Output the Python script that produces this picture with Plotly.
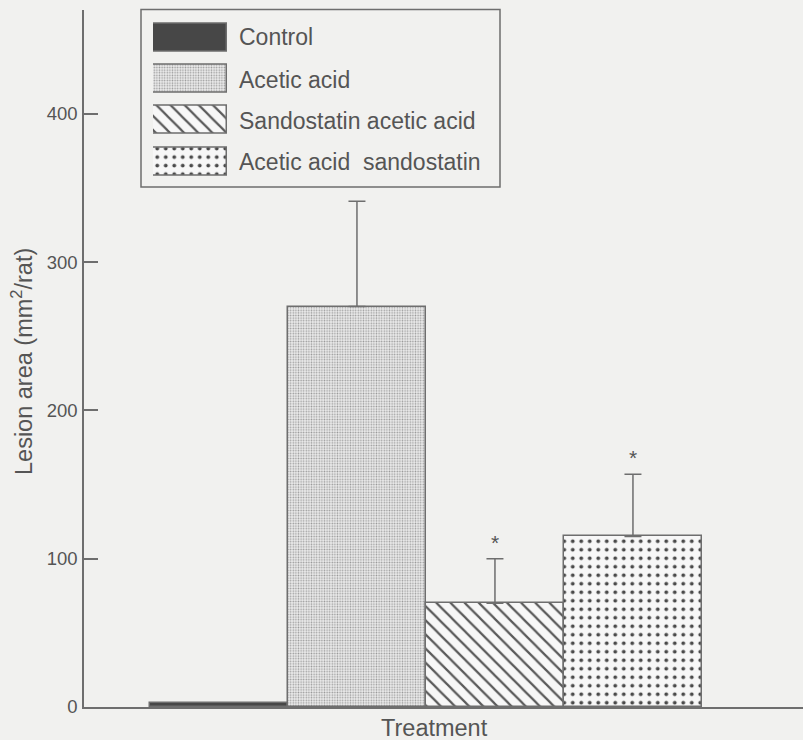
import plotly.graph_objects as go

# ---- data ----
categories = ["Control", "Acetic acid", "Sandostatin acetic acid", "Acetic acid  sandostatin"]
values = [3, 270, 70, 115]
errors = [0, 71, 30, 42]
significant = [False, False, True, True]
y_ticks = [0, 100, 200, 300, 400]

# ---- styling ----
W, H = 803, 740
ML, MR, MT, MB = 84, 0, 10, 33
PW, PH = W - ML - MR, H - MT - MB
BG = "#f1f1ef"
LINE = "#6e6e6e"
TEXT = "#555555"
FONT = "Liberation Sans, Arial, Helvetica, sans-serif"

fills = ["#474747", "#ececec", "#f7f7f7", "#f7f7f7"]
shapes_p = ["", ".", "\\", "."]
pat_fg = ["#474747", "#9a9a9a", "#5a5a5a", "#4a4a4a"]
pat_size = [8, 2.6, 10, 8.5]
pat_sol = [0.2, 0.3, 0.22, 0.16]


def px_x(p):
    return (p - ML) / PW


def px_y(p):
    return (H - MB - p) / PH


fig = go.Figure()

x_pos = list(range(len(categories)))
for i, cat in enumerate(categories):
    fig.add_trace(go.Bar(
        x=[x_pos[i]], y=[values[i]], width=1,
        marker=dict(color=fills[i], line=dict(color=LINE, width=1.5),
                    pattern=dict(shape=shapes_p[i], fgcolor=pat_fg[i], bgcolor=fills[i],
                                 size=pat_size[i], solidity=pat_sol[i], fillmode="replace")),
        error_y=dict(type="data", symmetric=False, array=[errors[i]], arrayminus=[0],
                     visible=errors[i] > 0, color=LINE, thickness=1.5, width=8.5),
        showlegend=False, hoverinfo="skip",
    ))
    if significant[i]:
        fig.add_annotation(x=x_pos[i], y=values[i] + errors[i], yshift=3, text="*",
                           showarrow=False, yanchor="bottom",
                           font=dict(family=FONT, size=21, color=TEXT))

# ---- legend built from swatch bars ----
leg_rows = [37.5, 79.5, 120.5, 161.5]
pitch = 41.3
for i, cat in enumerate(categories):
    fig.add_trace(go.Bar(
        y=[i], x=[1], base=0, width=0.68, orientation="h", xaxis="x2", yaxis="y2",
        marker=dict(color=fills[i], line=dict(color=LINE, width=1.5),
                    pattern=dict(shape=shapes_p[i], fgcolor=pat_fg[i], bgcolor=fills[i],
                                 size=pat_size[i], solidity=pat_sol[i], fillmode="replace")),
        showlegend=False, hoverinfo="skip",
    ))
    fig.add_annotation(xref="paper", yref="paper", x=px_x(237), y=px_y(leg_rows[i]),
                       text=cat, showarrow=False, xanchor="left", yanchor="middle",
                       font=dict(family=FONT, size=23, color=TEXT))

fig.add_shape(type="rect", xref="paper", yref="paper",
              x0=px_x(141), x1=px_x(500), y0=px_y(187), y1=px_y(9.5),
              line=dict(color=LINE, width=1.5), fillcolor="rgba(0,0,0,0)", layer="above")

# axis titles
fig.add_annotation(xref="paper", yref="paper", x=px_x(434), y=px_y(728),
                   text="Treatment", showarrow=False, xanchor="center", yanchor="middle",
                   font=dict(family=FONT, size=23.5, color=TEXT))
fig.add_annotation(xref="paper", yref="paper", x=px_x(22), y=px_y(362),
                   text="Lesion area (mm<sup>2</sup>/rat)", showarrow=False, textangle=-90,
                   xanchor="center", yanchor="middle",
                   font=dict(family=FONT, size=23.5, color=TEXT))

fig.update_layout(
    width=W, height=H,
    margin=dict(l=ML, r=MR, t=MT, b=MB, pad=0),
    paper_bgcolor=BG, plot_bgcolor=BG,
    bargap=0, barmode="overlay",
    hovermode=False,
    xaxis=dict(range=[-0.978, -0.978 + PW / 138.0], showgrid=False, zeroline=False,
               showticklabels=False, ticks="", showline=True, linecolor=LINE, linewidth=1.5,
               fixedrange=True),
    yaxis=dict(range=[0, PH / 1.483], tickvals=y_ticks, ticktext=[str(t) for t in y_ticks],
               ticks="inside", ticklen=14, tickwidth=1.5, tickcolor=LINE,
               showgrid=False, zeroline=False, showline=True, linecolor=LINE, linewidth=1.5,
               tickfont=dict(family=FONT, size=18.5, color=TEXT), ticklabelstandoff=1,
               fixedrange=True),
    xaxis2=dict(domain=[px_x(153), px_x(227)], range=[0, 1], visible=False, anchor="y2",
                fixedrange=True),
    yaxis2=dict(domain=[px_y(leg_rows[-1] + pitch / 2), px_y(leg_rows[0] - pitch / 2)],
                range=[3.5, -0.5], visible=False, anchor="x2", fixedrange=True),
)

fig.write_html("out.html")
